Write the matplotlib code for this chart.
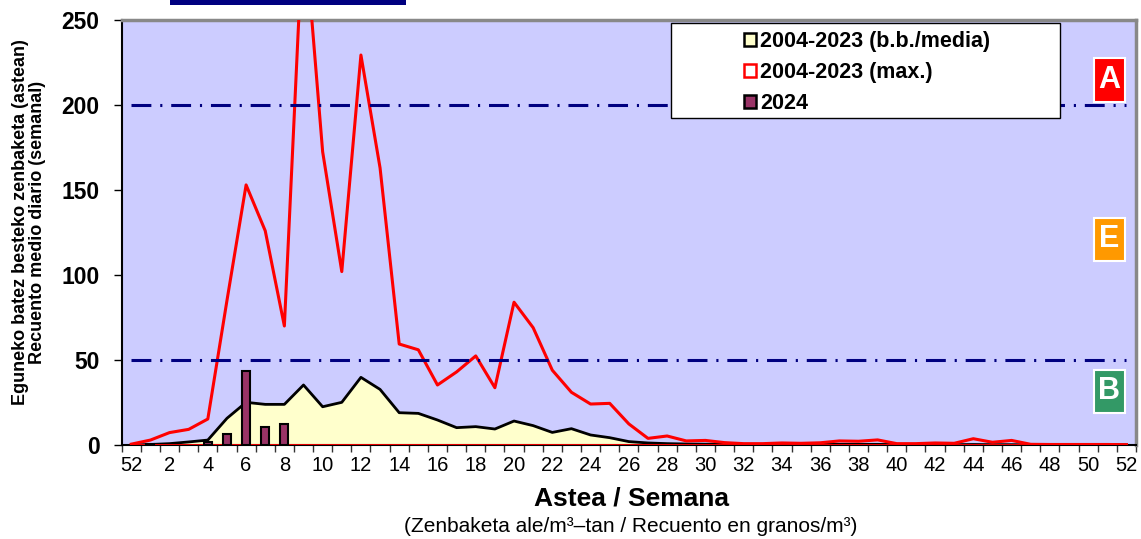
import numpy as np
import matplotlib
matplotlib.use("Agg")
import matplotlib.pyplot as plt
from matplotlib.patches import Patch, Rectangle

plt.rcParams['font.family'] = ['Liberation Sans', 'DejaVu Sans']

weeks = [52] + list(range(1, 53))
mean_vals = [0.0, 0.3, 0.8, 1.8, 2.9, 15.7, 25.1, 23.9, 23.9, 35.3, 22.5, 25.1, 39.8, 32.7,
             19.0, 18.6, 14.7, 10.2, 10.8, 9.4, 14.1, 11.4, 7.4, 9.6, 5.9, 4.3, 2.0, 1.2,
             0.8, 0.6, 0.5, 0.4, 0.3, 0.3, 0.3, 0.3, 0.3, 0.4, 0.4, 0.4, 0.2, 0.2, 0.2, 0.2,
             0.3, 0.2, 0.2, 0.1, 0.1, 0.1, 0.1, 0.1, 0.1]
max_vals = [0.5, 2.9, 7.3, 9.2, 15.3, 85.0, 153.0, 126.0, 70.0, 310.0, 172.5, 102.0, 229.4,
            163.0, 59.4, 56.0, 35.3, 43.0, 52.4, 33.7, 84.0, 69.0, 44.0, 31.0, 24.1, 24.5,
            12.4, 3.9, 5.3, 2.4, 2.7, 1.4, 0.8, 0.8, 1.2, 1.0, 1.3, 2.4, 2.2, 3.0, 0.8, 0.8,
            1.2, 1.0, 3.7, 1.6, 2.7, 0.4, 0.3, 0.3, 0.3, 0.3, 0.2]
vals_2024 = [0.0, 0.6, 0.0, 0.0, 1.5, 6.3, 43.7, 10.8, 12.2] + [0.0] * 44
series_labels = ['2004-2023 (b.b./media)', '2004-2023 (max.)', '2024']
thresholds = [50, 200]
y_ticks = [0, 50, 100, 150, 200, 250]
level_labels = ['A', 'E', 'B']
level_colors = ['#FF0000', '#FF9900', '#339966']

x = np.arange(len(weeks))

W, H = 1141, 539
fig = plt.figure(figsize=(W / 100, H / 100), dpi=100)
AX_L, AX_R, AX_T, AX_B = 121.7, 1136, 20, 445
ax = fig.add_axes([AX_L / W, 1 - AX_B / H, (AX_R - AX_L) / W, (AX_B - AX_T) / H])
ax.set_facecolor('#CCCCFF')

# mean area
ax.fill_between(x, 0, mean_vals, color='#FFFFCC', zorder=2, linewidth=0)
ax.plot(x, mean_vals, color='black', lw=2, zorder=3)
# max area (no fill)
ax.plot(x, max_vals, color='#FF0000', lw=2.2, zorder=4)
ax.plot([x[0], x[-1]], [0, 0], color='#FF0000', lw=2, zorder=4)
# 2024 bars
bx = [i for i, v in enumerate(vals_2024) if v > 0]
bv = [vals_2024[i] for i in bx]
ax.bar(bx, bv, width=0.42, color='#993366', edgecolor='black', linewidth=1.5, zorder=5)

# thresholds
for t in thresholds:
    ax.plot([x[0], x[-1]], [t, t], color='#000080', lw=2.2, zorder=6,
            dashes=(6.5, 2.9, 0.7, 2.9), dash_capstyle='butt')

ax.set_xlim(-0.5, len(weeks) - 0.5)
ax.set_ylim(0, 250)

ax.set_yticks(y_ticks)
ax.set_yticklabels([str(v) for v in y_ticks], fontsize=16.5, fontweight='bold')
ax.set_xticks(x[::2])
ax.set_xticklabels([str(weeks[i]) for i in x[::2]], fontsize=14.5)
ax.set_xticks(np.arange(-0.5, len(weeks), 1), minor=True)
ax.tick_params(axis='x', which='major', length=0, pad=8)
ax.tick_params(axis='x', which='minor', length=5, width=1, direction='out', color='#333333')
ax.tick_params(axis='y', length=6, width=1, direction='out', pad=10)

for s in ['top', 'right']:
    ax.spines[s].set_color('#888888')
    ax.spines[s].set_linewidth(2.5)
ax.spines['left'].set_color('black')
ax.spines['left'].set_linewidth(1.5)
ax.spines['bottom'].set_color('black')
ax.spines['bottom'].set_linewidth(1.5)

fig.text(631 / W, 1 - 498 / H, 'Astea / Semana', fontsize=19, fontweight='bold',
         ha='center', va='center')
fig.text(631 / W, 1 - 526 / H,
         '(Zenbaketa ale/m³–tan / Recuento en granos/m³)', fontsize=15,
         ha='center', va='center')
fig.text(21 / W, 1 - 222 / H, 'Eguneko batez besteko zenbaketa (astean)',
         rotation=90, fontsize=13, fontweight='bold', ha='center', va='center')
fig.text(38 / W, 1 - 222 / H, 'Recuento medio diario (semanal)',
         rotation=90, fontsize=13, fontweight='bold', ha='center', va='center')

# legend box
fig.patches.append(Rectangle((671 / W, 1 - 118 / H), (1060 - 671) / W, (118 - 23) / H,
                             transform=fig.transFigure, facecolor='white', edgecolor='black',
                             linewidth=1, zorder=9))
handles = [Patch(facecolor='#FFFFCC', edgecolor='black', linewidth=1.8),
           Patch(facecolor='white', edgecolor='#FF0000', linewidth=1.8),
           Patch(facecolor='#993366', edgecolor='black', linewidth=1.8)]
leg = fig.legend(handles, series_labels, loc='upper left', bbox_to_anchor=(740 / W, 1 - 27 / H),
                 frameon=False, prop={'weight': 'bold', 'size': 15.5},
                 handlelength=0.55, handleheight=0.55, handletextpad=0.2,
                 borderpad=0.2, labelspacing=0.45, borderaxespad=0)
leg.set_zorder(10)

# level boxes
level_y = [80, 239, 391]
for lab, col, yc in zip(level_labels, level_colors, level_y):
    fig.patches.append(Rectangle((1094 / W, 1 - (yc + 21.5) / H), 31 / W, 43 / H,
                                 transform=fig.transFigure, facecolor=col, edgecolor='white',
                                 linewidth=1.5, zorder=20))
    fig.text(1109.5 / W, 1 - yc / H, lab, color='white', fontsize=22, fontweight='bold',
             ha='center', va='center', zorder=21)

# cut-off title box
fig.patches.append(Rectangle((170 / W, 1 - 5 / H), 236 / W, 10 / H,
                             transform=fig.transFigure, facecolor='#000080', edgecolor='none'))

fig.savefig('out.png', dpi=100)
